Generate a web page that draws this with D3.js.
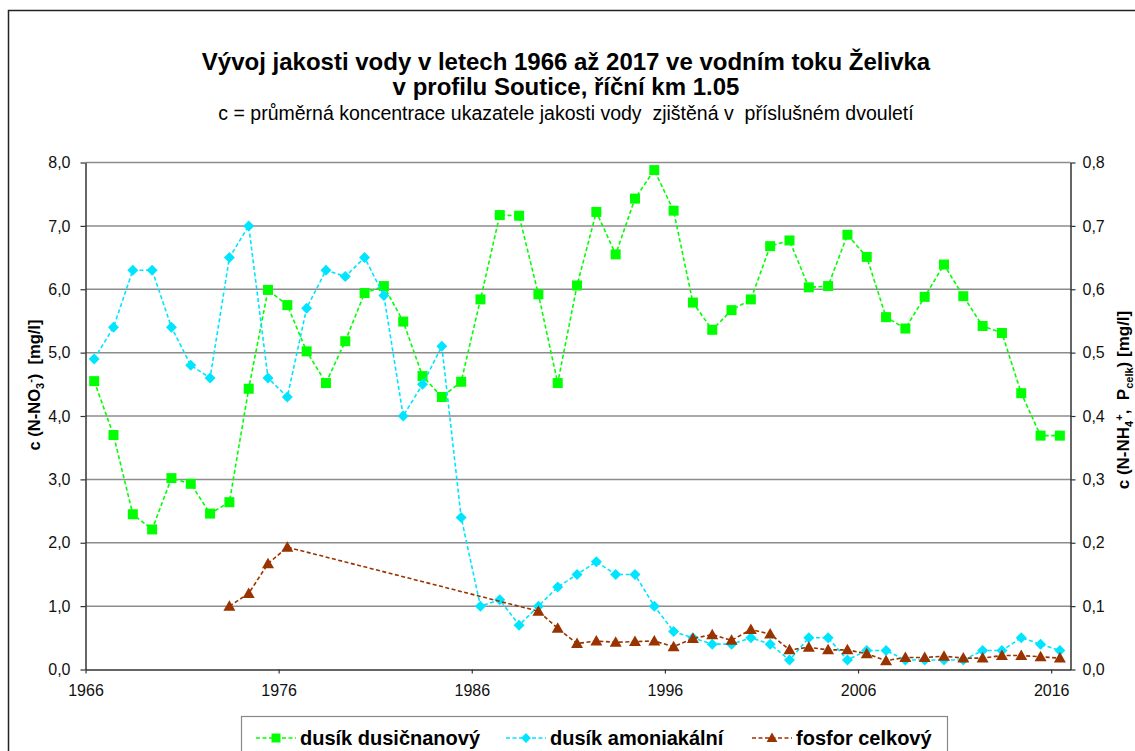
<!DOCTYPE html>
<html lang="cs">
<head>
<meta charset="utf-8">
<title>Vývoj jakosti vody – Želivka, Soutice</title>
<script src="https://d3js.org/d3.v7.min.js"></script>
<style>
  body { margin: 0; background: #fff; }
  svg { display: block; font-family: Arial, "Liberation Sans", sans-serif; }
  .pre { white-space: pre; }
</style>
</head>
<body>
<svg width="1135" height="751"></svg>
<script>
// roky (střed dvouletí se kreslí o necelý půlrok vpravo)
const years = [1966, 1967, 1968, 1969, 1970, 1971, 1972, 1973, 1974, 1975,
  1976, 1977, 1978, 1979, 1980, 1981, 1982, 1983, 1984, 1985,
  1986, 1987, 1988, 1989, 1990, 1991, 1992, 1993, 1994, 1995,
  1996, 1997, 1998, 1999, 2000, 2001, 2002, 2003, 2004, 2005,
  2006, 2007, 2008, 2009, 2010, 2011, 2012, 2013, 2014, 2015, 2016];

// dusík dusičnanový [mg/l] – levá osa
const nitrate = [4.55, 3.70, 2.45, 2.21, 3.02, 2.93, 2.46, 2.64, 4.43, 5.99,
  5.75, 5.02, 4.52, 5.18, 5.94, 6.05, 5.49, 4.63, 4.30, 4.54,
  5.84, 7.17, 7.16, 5.92, 4.52, 6.06, 7.22, 6.55, 7.43, 7.88,
  7.24, 5.79, 5.36, 5.67, 5.84, 6.68, 6.77, 6.03, 6.05, 6.86,
  6.51, 5.56, 5.38, 5.88, 6.39, 5.89, 5.42, 5.31, 4.36, 3.69, 3.69];

// dusík amoniakální [mg/l] – pravá osa
const ammonium = [0.49, 0.54, 0.63, 0.63, 0.54, 0.48, 0.46, 0.65, 0.70, 0.46,
  0.43, 0.57, 0.63, 0.62, 0.65, 0.59, 0.40, 0.45, 0.51, 0.24,
  0.10, 0.11, 0.07, 0.10, 0.13, 0.15, 0.17, 0.15, 0.15, 0.10,
  0.06, 0.05, 0.04, 0.04, 0.05, 0.04, 0.015, 0.05, 0.05, 0.015,
  0.03, 0.03, 0.015, 0.015, 0.015, 0.015, 0.03, 0.03, 0.05, 0.04, 0.03];

// fosfor celkový [mg/l] – pravá osa (chybějící roky = null)
const phosphorus = [null, null, null, null, null, null, null, 0.100, 0.120, 0.167,
  0.193, null, null, null, null, null, null, null, null, null,
  null, null, null, 0.092, 0.065, 0.041, 0.045, 0.043, 0.044, 0.045,
  0.036, 0.049, 0.055, 0.046, 0.063, 0.056, 0.031, 0.035, 0.031, 0.031,
  0.025, 0.014, 0.019, 0.019, 0.021, 0.018, 0.018, 0.022, 0.022, 0.020, 0.018];

const xTicks = [1966, 1976, 1986, 1996, 2006, 2016];
const leftTicks = [0, 1, 2, 3, 4, 5, 6, 7, 8];
const rightTicks = [0, 0.1, 0.2, 0.3, 0.4, 0.5, 0.6, 0.7, 0.8];

const svg = d3.select("svg");

const x = d3.scaleLinear().domain([1966, 2017]).range([85.5, 1070.5]);
const yL = d3.scaleLinear().domain([0, 8]).range([669.5, 162.5]);
const yR = d3.scaleLinear().domain([0, 0.8]).range([669.5, 162.5]);
const xPos = yr => x(yr + 0.45);
const comma = d => d3.format(".1f")(d).replace(".", ",");

// rámeček grafu
svg.append("rect")
  .attr("x", 8.5).attr("y", 10.5)
  .attr("width", 1300).attr("height", 1000)
  .attr("fill", "none").attr("stroke", "#222").attr("stroke-width", 1.5);

// nadpisy
const title = svg.append("g").attr("text-anchor", "middle").attr("fill", "#000");
title.append("text").attr("x", 566).attr("y", 70)
  .attr("font-size", 24).attr("font-weight", "bold")
  .text("Vývoj jakosti vody v letech 1966 až 2017 ve vodním toku Želivka");
title.append("text").attr("x", 566).attr("y", 95)
  .attr("font-size", 24).attr("font-weight", "bold")
  .text("v profilu Soutice, říční km 1.05");
title.append("text").attr("class", "pre").attr("x", 566).attr("y", 120)
  .attr("font-size", 19.5)
  .text("c = průměrná koncentrace ukazatele jakosti vody  zjištěná v  příslušném dvouletí");

// mřížka
svg.append("g").selectAll("line")
  .data(leftTicks.filter(d => d > 0))
  .enter().append("line")
  .attr("x1", x(1966)).attr("x2", x(2017))
  .attr("y1", d => yL(d)).attr("y2", d => yL(d))
  .attr("stroke", "#8c8c8c").attr("stroke-width", 1.5);

// osy
const styleAxis = g => {
  g.select(".domain").attr("stroke", "#333").attr("stroke-width", 1.5);
  g.selectAll(".tick line").attr("stroke", "#333").attr("stroke-width", 1.2);
  g.selectAll(".tick text").attr("fill", "#111").attr("font-size", 16)
    .attr("font-family", "Arial, 'Liberation Sans', sans-serif");
};

svg.append("g")
  .attr("transform", "translate(85.5,0)")
  .call(d3.axisLeft(yL).tickValues(leftTicks).tickSize(5).tickSizeOuter(0)
    .tickPadding(10).tickFormat(comma))
  .call(styleAxis);

svg.append("g")
  .attr("transform", "translate(1070.5,0)")
  .call(d3.axisRight(yR).tickValues(rightTicks).tickSize(5).tickSizeOuter(0)
    .tickPadding(7).tickFormat(comma))
  .call(styleAxis);

svg.append("g")
  .attr("transform", "translate(0,669.5)")
  .call(d3.axisBottom(x).tickValues(xTicks).tickSize(4).tickSizeOuter(0)
    .tickPadding(11).tickFormat(d3.format("d")))
  .call(styleAxis);

// popisy os
const leftTitle = svg.append("text").attr("class", "pre")
  .attr("transform", "translate(40,385) rotate(-90)")
  .attr("text-anchor", "middle").attr("font-size", 16.5).attr("font-weight", "bold");
leftTitle.append("tspan").text("c (N-NO");
leftTitle.append("tspan").attr("font-size", 11).attr("dy", 4).text("3");
leftTitle.append("tspan").attr("font-size", 11).attr("dy", -10).text("-");
leftTitle.append("tspan").attr("dy", 6).text(")  [mg/l]");

const rightTitle = svg.append("text").attr("class", "pre")
  .attr("transform", "translate(1129,400) rotate(-90)")
  .attr("text-anchor", "middle").attr("font-size", 17).attr("font-weight", "bold");
rightTitle.append("tspan").text("c (N-NH");
rightTitle.append("tspan").attr("font-size", 11).attr("dy", 4).text("4");
rightTitle.append("tspan").attr("font-size", 11).attr("dy", -10).text("+");
rightTitle.append("tspan").attr("dy", 6).text(",  P");
rightTitle.append("tspan").attr("font-size", 11).attr("dy", 4).text("celk");
rightTitle.append("tspan").attr("dy", -4).text(") [mg/l]");

// značky
const markers = {
  square: "M-5,-5H5V5H-5Z",
  diamond: "M0,-5.5L5.5,0L0,5.5L-5.5,0Z",
  triangle: "M0,-6L6,4.5H-6Z"
};

const series = [
  { name: "dusík dusičnanový", values: nitrate, y: yL, color: "#00ff00", marker: "square" },
  { name: "dusík amoniakální", values: ammonium, y: yR, color: "#00e5ff", marker: "diamond" },
  { name: "fosfor celkový", values: phosphorus, y: yR, color: "#993300", marker: "triangle" }
];

series.forEach(s => {
  const pts = years.map((yr, i) => ({ yr, v: s.values[i] })).filter(d => d.v != null);
  const line = d3.line().x(d => xPos(d.yr)).y(d => s.y(d.v));
  svg.append("path")
    .datum(pts)
    .attr("d", line)
    .attr("fill", "none")
    .attr("stroke", s.color)
    .attr("stroke-width", 1.6)
    .attr("stroke-dasharray", "4,2.5");
  svg.append("g").selectAll("path")
    .data(pts)
    .enter().append("path")
    .attr("d", markers[s.marker])
    .attr("transform", d => `translate(${xPos(d.yr)},${s.y(d.v)})`)
    .attr("fill", s.color);
});

// legenda
const legend = svg.append("g");
legend.append("rect")
  .attr("x", 241.5).attr("y", 716.5)
  .attr("width", 706).attr("height", 60)
  .attr("fill", "#fff").attr("stroke", "#888").attr("stroke-width", 1.2);

const legendX = [256, 506, 752];
series.forEach((s, i) => {
  const g = legend.append("g").attr("transform", `translate(${legendX[i]},738)`);
  g.append("line")
    .attr("x1", 0).attr("x2", 40).attr("y1", 0).attr("y2", 0)
    .attr("stroke", s.color).attr("stroke-width", 1.6)
    .attr("stroke-dasharray", "4,2.5");
  g.append("path").attr("d", markers[s.marker])
    .attr("transform", "translate(20,0) scale(0.9)")
    .attr("fill", s.color);
  g.append("text")
    .attr("x", 44).attr("y", 7)
    .attr("font-size", 20).attr("font-weight", "bold")
    .text(s.name);
});
</script>
</body>
</html>
